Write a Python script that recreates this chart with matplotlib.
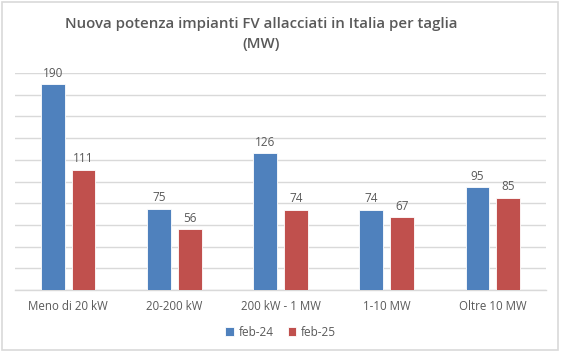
import matplotlib
matplotlib.use("Agg")
import matplotlib.pyplot as plt
import numpy as np
from matplotlib.patches import Rectangle

categories = ["Meno di 20 kW", "20-200 kW", "200 kW - 1 MW", "1-10 MW", "Oltre 10 MW"]
series_names = ["feb-24", "feb-25"]
feb24 = [190, 75, 126, 74, 95]
feb25 = [111, 56, 74, 67, 85]
colors = ["#4F81BD", "#C0504D"]
txt = "#595959"

plt.rcParams['font.family'] = ['Open Sans', 'DejaVu Sans']

fig = plt.figure(figsize=(5.61, 3.52), dpi=100)
fig.patches.append(Rectangle((0.004, 0.006), 0.99, 0.988, transform=fig.transFigure,
                             fill=False, edgecolor="#D9D9D9", linewidth=1.2))
ax = fig.add_axes([15/561, 1 - 290/352, (546-15)/561, (290-73)/352])

x = np.arange(len(categories))
w = 0.225
off = 0.145
for vals, c, name, d in [(feb24, colors[0], series_names[0], -off), (feb25, colors[1], series_names[1], off)]:
    bars = ax.bar(x + d, vals, width=w, color=c, edgecolor="white", linewidth=0.6, label=name, zorder=3)
    for b, v in zip(bars, vals):
        ax.text(b.get_x() + b.get_width()/2, v + 4, str(v), ha="center", va="bottom",
                fontsize=8.5, color=txt)

ax.set_xlim(-0.5, len(categories) - 0.5)
ax.set_ylim(0, 200)
ax.set_yticks(np.arange(0, 201, 20))
ax.yaxis.grid(True, color="#D9D9D9", linewidth=1, zorder=0)
ax.set_yticklabels([])
ax.tick_params(axis="y", length=0)
ax.tick_params(axis="x", length=0, pad=7, labelsize=8.3, labelcolor=txt)
ax.set_xticks(x)
ax.set_xticklabels(categories)
for s in ["top", "right", "left"]:
    ax.spines[s].set_visible(False)
ax.spines["bottom"].set_color("#D9D9D9")
ax.spines["bottom"].set_linewidth(1)

fig.text(261/561, 1 - 34/352, "Nuova potenza impianti FV allacciati in Italia per taglia\n(MW)",
         ha="center", va="center", fontsize=10.8, fontweight="semibold", color=txt, linespacing=1.5)

leg = fig.legend(loc="center", bbox_to_anchor=(0.5, 1 - 332/352), ncol=2, frameon=False,
                 fontsize=8.5, handlelength=0.7, handleheight=0.7, handletextpad=0.4, columnspacing=1.2)
for t in leg.get_texts():
    t.set_color(txt)

fig.savefig("out.png", dpi=100)
